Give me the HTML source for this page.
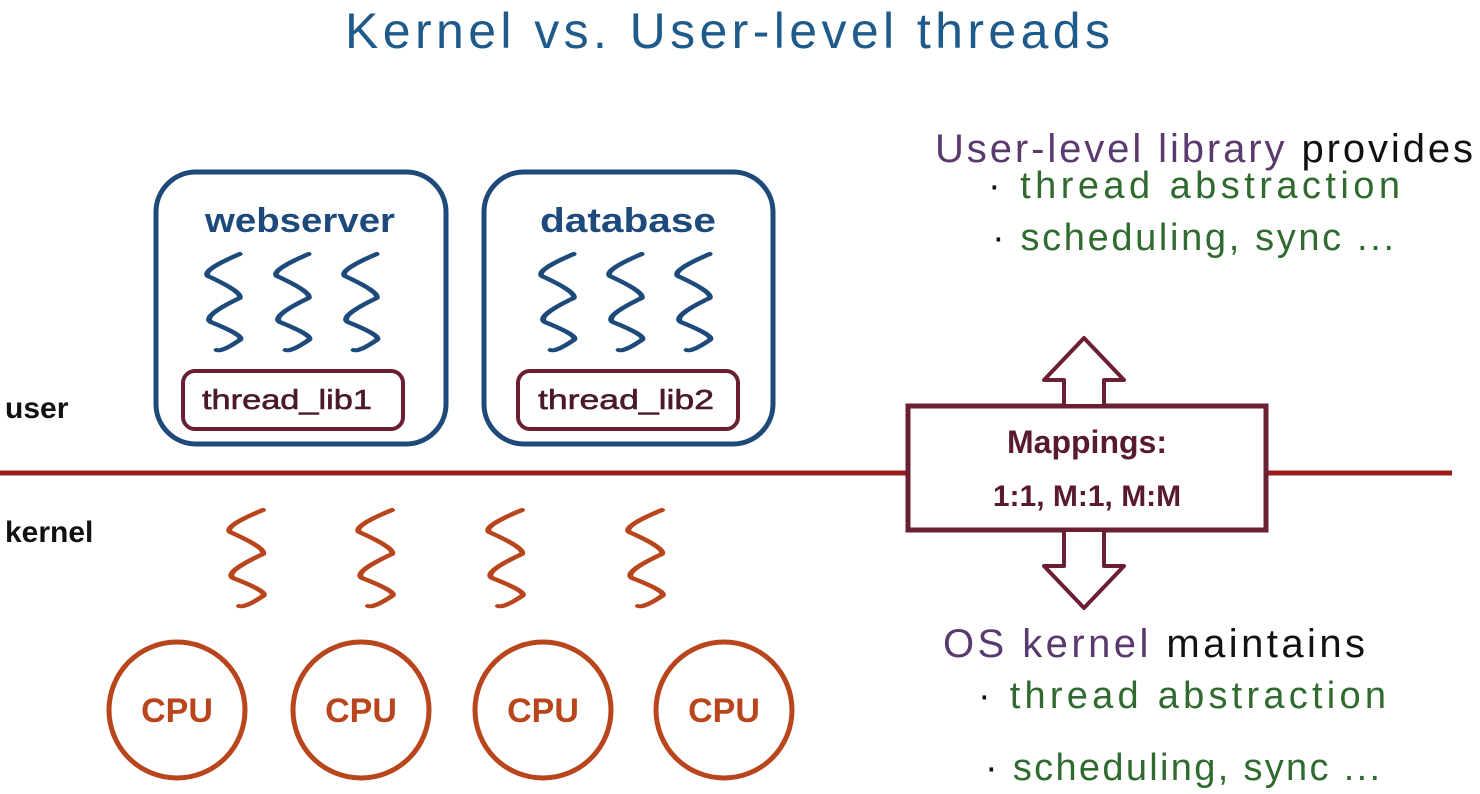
<!DOCTYPE html>
<html><head><meta charset="utf-8"><style>
body{margin:0;background:#fff;}
svg{display:block}
.h{font-family:"Liberation Sans",sans-serif;font-weight:normal}
.b{font-family:"Liberation Sans",sans-serif;font-weight:bold}
</style></head><body>
<svg width="1480" height="794" viewBox="0 0 1480 794" xmlns="http://www.w3.org/2000/svg">
<defs>
<path id="sq" d="M26 2 Q 0 18 4 24 Q 28 40 26 46 Q 0 64 6 70 Q 30 84 26 88 Q 14 100 10 98" fill="none" stroke-width="4" stroke-linecap="round" stroke-linejoin="round"/>
</defs>
<text x="345" y="48" class="h" font-size="50" fill="#1e5a8a" textLength="765" lengthAdjust="spacing">Kernel vs. User-level threads</text>

<rect x="156" y="172" width="290" height="272" rx="40" fill="none" stroke="#1d4a7a" stroke-width="5"/>
<rect x="484" y="172" width="289" height="272" rx="40" fill="none" stroke="#1d4a7a" stroke-width="5"/>
<text x="205" y="232" class="b" font-size="34" fill="#1d4a7a" textLength="190" lengthAdjust="spacingAndGlyphs">webserver</text>
<text x="540" y="232" class="b" font-size="34" fill="#1d4a7a" textLength="176" lengthAdjust="spacingAndGlyphs">database</text>
<g stroke="#1d4a7a">
<use href="#sq" transform="translate(202,252) scale(1.45,1)"/>
<use href="#sq" transform="translate(271,252) scale(1.45,1)"/>
<use href="#sq" transform="translate(339,252) scale(1.45,1)"/>
<use href="#sq" transform="translate(536,252) scale(1.45,1)"/>
<use href="#sq" transform="translate(604,252) scale(1.45,1)"/>
<use href="#sq" transform="translate(672,252) scale(1.45,1)"/>
</g>
<rect x="183" y="371" width="220" height="58" rx="12" fill="none" stroke="#6b1f33" stroke-width="4"/>
<rect x="518" y="371" width="220" height="58" rx="12" fill="none" stroke="#6b1f33" stroke-width="4"/>
<text x="202" y="409" class="h" font-size="28" fill="#4a1a28" textLength="170" lengthAdjust="spacingAndGlyphs" stroke="#4a1a28" stroke-width="0.6">thread_lib1</text>
<text x="538" y="409" class="h" font-size="28" fill="#4a1a28" textLength="176" lengthAdjust="spacingAndGlyphs" stroke="#4a1a28" stroke-width="0.6">thread_lib2</text>

<text x="5" y="418" class="b" font-size="30" fill="#111">user</text>
<text x="5" y="542" class="b" font-size="30" fill="#111">kernel</text>

<line x1="0" y1="473" x2="1452" y2="473" stroke="#9b1b1b" stroke-width="5"/>

<g stroke="#b8451c">
<use href="#sq" transform="translate(224,508) scale(1.5,1)"/>
<use href="#sq" transform="translate(353,508) scale(1.5,1)"/>
<use href="#sq" transform="translate(483,508) scale(1.5,1)"/>
<use href="#sq" transform="translate(623,508) scale(1.5,1)"/>
</g>

<g fill="none" stroke="#b8451c" stroke-width="5">
<circle cx="177" cy="710" r="68"/><circle cx="361" cy="710" r="68"/>
<circle cx="543" cy="710" r="68"/><circle cx="724" cy="710" r="68"/>
</g>
<g class="b" font-size="34" fill="#b8451c" text-anchor="middle">
<text x="177" y="722">CPU</text><text x="361" y="722">CPU</text>
<text x="543" y="722">CPU</text><text x="724" y="722">CPU</text>
</g>

<rect x="908" y="406" width="358" height="124" fill="#fff" stroke="#6b1f33" stroke-width="5"/>
<text x="1087" y="453" class="b" font-size="32" fill="#5a1a2e" text-anchor="middle">Mappings:</text>
<text x="1087" y="506" class="b" font-size="30" fill="#5a1a2e" text-anchor="middle">1:1, M:1, M:M</text>
<polygon points="1084,338 1124,380 1104,380 1104,406 1064,406 1064,380 1044,380" fill="#fff" stroke="#6b1f33" stroke-width="4" stroke-linejoin="round"/>
<polygon points="1084,608 1124,566 1104,566 1104,530 1064,530 1064,566 1044,566" fill="#fff" stroke="#6b1f33" stroke-width="4" stroke-linejoin="round"/>

<text x="935" y="162" class="h" font-size="40" fill="#5a3a6e" textLength="538" lengthAdjust="spacing">User-level library <tspan fill="#111">provides</tspan></text>
<text x="988" y="198" class="h" font-size="38" fill="#2f6a2f" textLength="412" lengthAdjust="spacing"><tspan fill="#111">· </tspan>thread abstraction</text>
<text x="992" y="250" class="h" font-size="38" fill="#2f6a2f" textLength="402" lengthAdjust="spacing"><tspan fill="#111">· </tspan>scheduling, sync ...</text>
<text x="943" y="657" class="h" font-size="40" fill="#5a3a6e" textLength="422" lengthAdjust="spacing">OS kernel <tspan fill="#111">maintains</tspan></text>
<text x="978" y="708" class="h" font-size="38" fill="#2f6a2f" textLength="408" lengthAdjust="spacing"><tspan fill="#111">· </tspan>thread abstraction</text>
<text x="985" y="780" class="h" font-size="38" fill="#2f6a2f" textLength="395" lengthAdjust="spacing"><tspan fill="#111">· </tspan>scheduling, sync ...</text>
</svg>
</body></html>
